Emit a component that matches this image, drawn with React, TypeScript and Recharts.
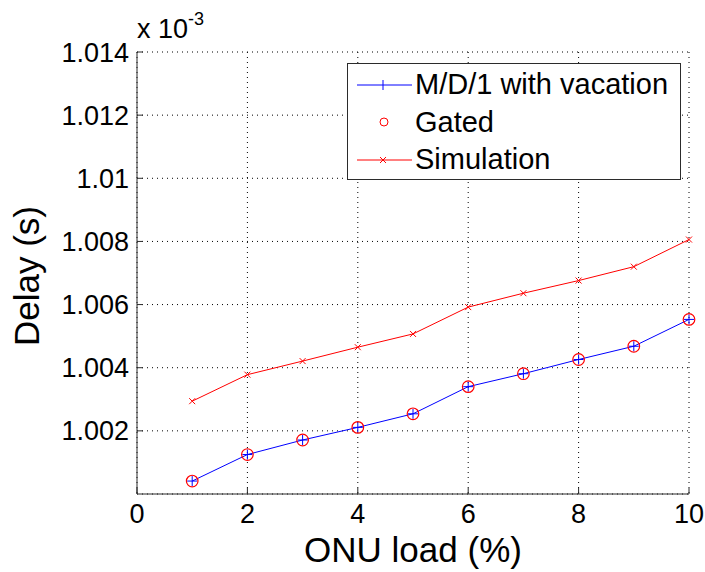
import React from 'react';
import { LineChart, Line, XAxis, YAxis, CartesianGrid, Legend } from 'recharts';

const loads = [1, 2, 3, 4, 5, 6, 7, 8, 9, 10];
const md1Vacation = [1.00041, 1.00125, 1.00171, 1.00211, 1.00254, 1.0034, 1.00381, 1.00426, 1.00468, 1.00553];
const gated = [1.00041, 1.00125, 1.00171, 1.00211, 1.00254, 1.0034, 1.00381, 1.00426, 1.00468, 1.00553];
const simulation = [1.00294, 1.00378, 1.00421, 1.00465, 1.00507, 1.00592, 1.00636, 1.00676, 1.0072, 1.00806];
const xTicks = [0, 2, 4, 6, 8, 10];
const yTicks = [1.002, 1.004, 1.006, 1.008, 1.01, 1.012, 1.014];
const seriesNames = ['M/D/1 with vacation', 'Gated', 'Simulation'];

const data = loads.map((l, i) => ({ load: l, md1: md1Vacation[i], gated: gated[i], sim: simulation[i] }));

const FONT = '"Liberation Sans", Arial, sans-serif';
const BLUE = '#0000ff';
const RED = '#ff0000';
const AXIS = '#2b2b2b';

const fmtY = (v: number) => Number(v.toFixed(3)).toString();

const XTickBottom = (props: any) => {
  const { x, y, payload } = props;
  return (
    <g>
      <line x1={x} x2={x} y1={y} y2={y - 6} stroke={AXIS} />
      <text x={x} y={y + 29} textAnchor="middle" fontSize={27} fontFamily={FONT} fill="#000">
        {payload.value}
      </text>
    </g>
  );
};
const XTickTop = (props: any) => {
  const { x, y } = props;
  return <line x1={x} x2={x} y1={y} y2={y + 6} stroke={AXIS} />;
};
const YTickLeft = (props: any) => {
  const { x, y, payload } = props;
  return (
    <g>
      <line x1={x} x2={x + 6} y1={y} y2={y} stroke={AXIS} />
      <text x={x - 8} y={y + 9.5} textAnchor="end" fontSize={27} fontFamily={FONT} fill="#000">
        {fmtY(payload.value)}
      </text>
    </g>
  );
};
const YTickRight = (props: any) => {
  const { x, y } = props;
  return <line x1={x} x2={x - 6} y1={y} y2={y} stroke={AXIS} />;
};

const PlusDot = (props: any) => {
  const { cx, cy } = props;
  if (cx == null || cy == null) return null;
  return (
    <g>
      <line x1={cx - 5} x2={cx + 5} y1={cy} y2={cy} stroke={BLUE} strokeWidth={1} />
      <line x1={cx} x2={cx} y1={cy - 5} y2={cy + 5} stroke={BLUE} strokeWidth={1} />
    </g>
  );
};
const CrossDot = (props: any) => {
  const { cx, cy } = props;
  if (cx == null || cy == null) return null;
  return (
    <g>
      <line x1={cx - 3} x2={cx + 3} y1={cy - 3} y2={cy + 3} stroke={RED} strokeWidth={1} />
      <line x1={cx - 3} x2={cx + 3} y1={cy + 3} y2={cy - 3} stroke={RED} strokeWidth={1} />
    </g>
  );
};
const CircleDot = (props: any) => {
  const { cx, cy } = props;
  if (cx == null || cy == null) return null;
  return <circle cx={cx} cy={cy} r={5.8} fill="none" stroke={RED} strokeWidth={1.2} />;
};

const LegendBox = () => {
  const rowStyle: React.CSSProperties = { display: 'flex', alignItems: 'center', height: 37.5 };
  const textStyle: React.CSSProperties = { fontFamily: FONT, fontSize: 29, color: '#000', marginLeft: 1, lineHeight: '29px', whiteSpace: 'nowrap' };
  return (
    <div
      style={{
        width: 332,
        height: 113,
        border: '1px solid #2b2b2b',
        background: '#fff',
        paddingTop: 2,
        boxSizing: 'content-box',
      }}
    >
      <div style={rowStyle}>
        <svg width={58} height={20} style={{ marginLeft: 8 }}>
          <line x1={1} x2={56} y1={10} y2={10} stroke={BLUE} />
          <line x1={27} x2={27} y1={5} y2={15} stroke={BLUE} />
        </svg>
        <span style={textStyle}>{seriesNames[0]}</span>
      </div>
      <div style={rowStyle}>
        <svg width={58} height={20} style={{ marginLeft: 8 }}>
          <circle cx={28} cy={10} r={4} fill="none" stroke={RED} />
        </svg>
        <span style={textStyle}>{seriesNames[1]}</span>
      </div>
      <div style={rowStyle}>
        <svg width={58} height={20} style={{ marginLeft: 8 }}>
          <line x1={1} x2={56} y1={10} y2={10} stroke={RED} />
          <line x1={24} x2={30} y1={7} y2={13} stroke={RED} />
          <line x1={24} x2={30} y1={13} y2={7} stroke={RED} />
        </svg>
        <span style={textStyle}>{seriesNames[2]}</span>
      </div>
    </div>
  );
};

export default function App() {
  return (
    <div style={{ position: 'absolute', left: 0, top: 0, width: 705, height: 572, background: '#fff' }}>
      <LineChart width={705} height={572} data={data} margin={{ top: 52, right: 16, bottom: 0, left: 0 }}>
        <CartesianGrid stroke="#000" strokeDasharray="1 4" strokeWidth={1} />
        <XAxis
          dataKey="load"
          type="number"
          domain={[0, 10]}
          ticks={xTicks}
          height={78}
          tickSize={0}
          tickMargin={0}
          tickLine={false}
          axisLine={{ stroke: AXIS }}
          tick={<XTickBottom />}
          interval={0}
          label={(p: any) => {
            const vb = p.viewBox;
            return (
              <text x={vb.x + vb.width / 2} y={vb.y + 68} textAnchor="middle" fontSize={35} fontFamily={FONT} fill="#000">
                ONU load (%)
              </text>
            );
          }}
        />
        <XAxis
          xAxisId="top"
          orientation="top"
          dataKey="load"
          type="number"
          domain={[0, 10]}
          ticks={xTicks}
          height={0}
          tickSize={0}
          tickMargin={0}
          tickLine={false}
          axisLine={{ stroke: AXIS }}
          tick={<XTickTop />}
          interval={0}
        />
        <YAxis
          type="number"
          domain={[1.0, 1.014]}
          ticks={yTicks}
          width={137}
          tickSize={0}
          tickMargin={0}
          tickLine={false}
          axisLine={{ stroke: AXIS }}
          tick={<YTickLeft />}
          interval={0}
          allowDataOverflow
          label={(p: any) => {
            const vb = p.viewBox;
            const cx = 39;
            const cy = vb.y + vb.height / 2 + 3;
            return (
              <text x={cx} y={cy} transform={`rotate(-90, ${cx}, ${cy})`} textAnchor="middle" fontSize={35} fontFamily={FONT} fill="#000">
                Delay (s)
              </text>
            );
          }}
        />
        <YAxis
          yAxisId="right"
          orientation="right"
          type="number"
          domain={[1.0, 1.014]}
          ticks={yTicks}
          width={0}
          tickSize={0}
          tickMargin={0}
          tickLine={false}
          axisLine={{ stroke: AXIS }}
          tick={<YTickRight />}
          interval={0}
          allowDataOverflow
        />
        <Line dataKey="md1" name={seriesNames[0]} stroke={BLUE} strokeWidth={1} dot={<PlusDot />} isAnimationActive={false} />
        <Line dataKey="gated" name={seriesNames[1]} stroke="none" dot={<CircleDot />} activeDot={false} isAnimationActive={false} />
        <Line dataKey="sim" name={seriesNames[2]} stroke={RED} strokeWidth={1} dot={<CrossDot />} isAnimationActive={false} />
        <Legend
          layout="vertical"
          align="center"
          verticalAlign="middle"
          content={<LegendBox />}
          wrapperStyle={{ left: 347, top: 63, width: 334, height: 117 }}
        />
      </LineChart>
      <div style={{ position: 'absolute', left: 137, top: 14, fontFamily: FONT, fontSize: 27, color: '#000', lineHeight: '30px', whiteSpace: 'nowrap' }}>
        x 10<span style={{ fontSize: 18, position: 'relative', top: -13 }}>-3</span>
      </div>
    </div>
  );
}
